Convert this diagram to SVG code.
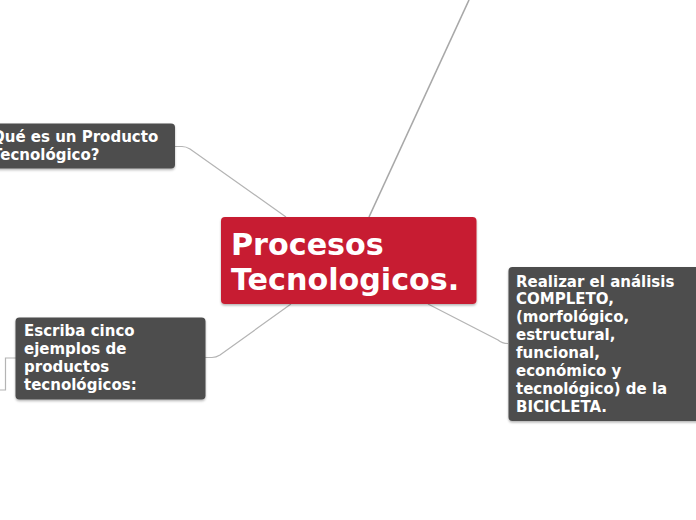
<svg xmlns="http://www.w3.org/2000/svg" width="696" height="520" viewBox="0 0 696 520">
<defs>
<filter id="sh" x="-10%" y="-10%" width="120%" height="130%">
<feDropShadow dx="0" dy="1.5" stdDeviation="1.2" flood-color="#000" flood-opacity="0.3"/>
</filter>
</defs>
<style>
.con{fill:none;stroke:#b4b4b4;stroke-width:1.2}
.dark{fill:#4d4d4d}
.red{fill:#c71f32}
.t{font-family:"DejaVu Sans",Verdana,sans-serif;font-weight:bold;fill:#fff}
.s{font-size:15px}
.b{font-size:30.2px}
</style>
<rect width="696" height="520" fill="#fff"/>
<g id="connectors">
<path class="con" d="M175,146.5 L182,146.5 Q186,146.5 190,149 L286,217"/>
<path class="con" d="M205,357.5 L212,357.5 Q216,357.5 220,355 L291,304"/>
<path class="con" d="M428,304 L498,340 Q502,343.5 508,343.5"/>
<path class="con" style="stroke:#a8a8a8;stroke-width:1.6" d="M369,217 L469,0"/>
<path class="con" d="M16,358 L5.5,358 L5.5,390 L0,390"/>
</g>
<g id="center">
<rect class="red" x="221" y="217" width="255.5" height="87" rx="4" filter="url(#sh)"/>
<text class="t b" x="231" y="255">Procesos</text>
<text class="t b" x="231" y="290">Tecnologicos.</text>
</g>
<g id="node-producto">
<rect class="dark" x="-10" y="123.5" width="185" height="45" rx="4" filter="url(#sh)"/>
<text class="t s" x="-8" y="142">Qué es un Producto</text>
<text class="t s" x="-8" y="160">Tecnológico?</text>
</g>
<g id="node-ejemplos">
<rect class="dark" x="15.5" y="317.5" width="190" height="82" rx="4" filter="url(#sh)"/>
<text class="t s" x="24" y="336">Escriba cinco</text>
<text class="t s" x="24" y="354">ejemplos de</text>
<text class="t s" x="24" y="372">productos</text>
<text class="t s" x="24" y="390">tecnológicos:</text>
</g>
<g id="node-bicicleta">
<rect class="dark" x="508.5" y="267" width="200" height="154" rx="4" filter="url(#sh)"/>
<text class="t s" x="516" y="286.5">Realizar el análisis</text>
<text class="t s" x="516" y="304.4">COMPLETO,</text>
<text class="t s" x="516" y="322.2">(morfológico,</text>
<text class="t s" x="516" y="340.1">estructural,</text>
<text class="t s" x="516" y="357.9">funcional,</text>
<text class="t s" x="516" y="375.8">económico y</text>
<text class="t s" x="516" y="393.7">tecnológico) de la</text>
<text class="t s" x="516" y="411.5">BICICLETA.</text>
</g>
</svg>
